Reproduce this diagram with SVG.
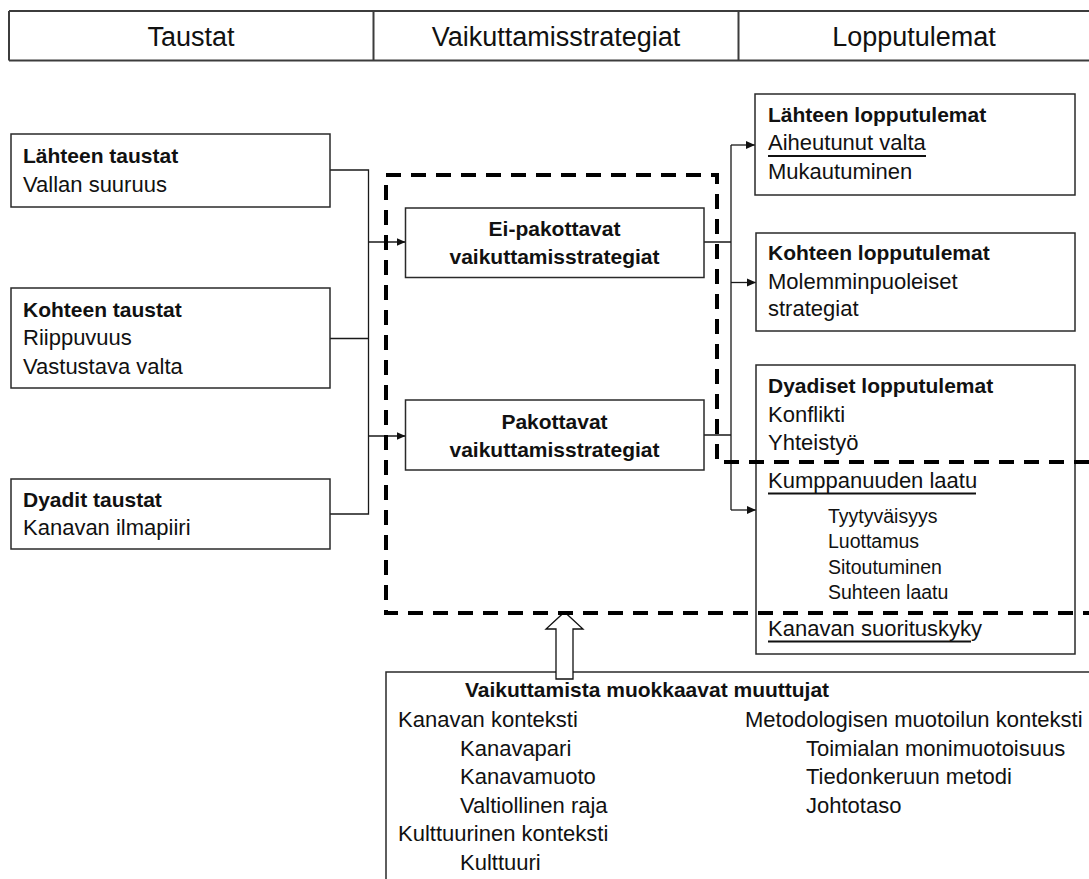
<svg xmlns="http://www.w3.org/2000/svg" width="1089" height="879" viewBox="0 0 1089 879">
  <style>
    text { font-family: "Liberation Sans", Arial, sans-serif; fill: #111; }
    .hd { font-size: 27px; text-anchor: middle; }
    .b { font-size: 21px; font-weight: bold; }
    .r { font-size: 22px; }
    .s { font-size: 19.5px; }
    .c { text-anchor: middle; }
    .box { fill: #fff; stroke: #2a2a2a; stroke-width: 1.5; }
    .ln { fill: none; stroke: #1a1a1a; stroke-width: 1.3; }
    .ul { stroke: #111; stroke-width: 2; }
    .dash { fill: none; stroke: #000; stroke-width: 4; stroke-dasharray: 15 10; }
  </style>
  <defs>
    <marker id="ah" markerUnits="userSpaceOnUse" markerWidth="10" markerHeight="9" refX="9" refY="4.5" orient="auto">
      <path d="M0,0.5 L9,4.5 L0,8.5 z" fill="#111"/>
    </marker>
  </defs>

  <rect width="1089" height="879" fill="#fff"/>

  <!-- column header -->
  <g id="header">
    <path d="M9 11 H1089 M9 60.5 H1089 M9 11 V60.5 M373.5 11 V60.5 M738.5 11 V60.5" fill="none" stroke="#3c3c3c" stroke-width="2"/>
    <text class="hd" x="191" y="46">Taustat</text>
    <text class="hd" x="556" y="46">Vaikuttamisstrategiat</text>
    <text class="hd" x="914" y="46">Lopputulemat</text>
  </g>

  <!-- connectors -->
  <g id="connectors">
    <path class="ln" d="M330 170 H368.5 V514 H330 M330 338.5 H368.5"/>
    <path class="ln" d="M368.5 242 H405.5" marker-end="url(#ah)"/>
    <path class="ln" d="M368.5 436 H405.5" marker-end="url(#ah)"/>
    <path class="ln" d="M704 242 H731 M704 435 H731 M731 145 V510"/>
    <path class="ln" d="M731 145 H755" marker-end="url(#ah)"/>
    <path class="ln" d="M731 282.5 H756" marker-end="url(#ah)"/>
    <path class="ln" d="M731 510 H756" marker-end="url(#ah)"/>
  </g>

  <!-- antecedents -->
  <g id="source-antecedents">
    <rect class="box" x="11" y="134" width="319" height="73"/>
    <text class="b" x="23" y="163">Lähteen taustat</text>
    <text class="r" x="23" y="191.5">Vallan suuruus</text>
  </g>
  <g id="target-antecedents">
    <rect class="box" x="11" y="288" width="319" height="100"/>
    <text class="b" x="23" y="316.5">Kohteen taustat</text>
    <text class="r" x="23" y="345">Riippuvuus</text>
    <text class="r" x="23" y="373.5">Vastustava valta</text>
  </g>
  <g id="dyadic-antecedents">
    <rect class="box" x="11" y="479" width="319" height="70"/>
    <text class="b" x="23" y="506.5">Dyadit taustat</text>
    <text class="r" x="23" y="535">Kanavan ilmapiiri</text>
  </g>

  <!-- influence strategies -->
  <g id="noncoercive">
    <rect class="box" x="405.5" y="208" width="298.5" height="69.5"/>
    <text class="b c" x="554.5" y="236">Ei-pakottavat</text>
    <text class="b c" x="554.5" y="264">vaikuttamisstrategiat</text>
  </g>
  <g id="coercive">
    <rect class="box" x="405.5" y="400" width="298.5" height="70"/>
    <text class="b c" x="554.5" y="428.5">Pakottavat</text>
    <text class="b c" x="554.5" y="456.5">vaikuttamisstrategiat</text>
  </g>

  <!-- outcomes -->
  <g id="source-outcomes">
    <rect class="box" x="755" y="94" width="320" height="101"/>
    <text class="b" x="768" y="121.5">Lähteen lopputulemat</text>
    <text class="r" x="768" y="150">Aiheutunut valta</text>
    <line class="ul" x1="768" y1="156" x2="926" y2="156"/>
    <text class="r" x="768" y="178.5">Mukautuminen</text>
  </g>
  <g id="target-outcomes">
    <rect class="box" x="756" y="233" width="319" height="98"/>
    <text class="b" x="768" y="260">Kohteen lopputulemat</text>
    <text class="r" x="768" y="288.5">Molemminpuoleiset</text>
    <text class="r" x="768" y="316">strategiat</text>
  </g>
  <g id="dyadic-outcomes">
    <rect class="box" x="756" y="365" width="319" height="289"/>
    <text class="b" x="768" y="393">Dyadiset lopputulemat</text>
    <text class="r" x="768" y="421.5">Konflikti</text>
    <text class="r" x="768" y="450">Yhteistyö</text>
    <text class="r" x="768" y="488">Kumppanuuden laatu</text>
    <line class="ul" x1="768" y1="493.5" x2="976" y2="493.5"/>
    <text class="s" x="828" y="523">Tyytyväisyys</text>
    <text class="s" x="828" y="548">Luottamus</text>
    <text class="s" x="828" y="573.5">Sitoutuminen</text>
    <text class="s" x="828" y="599">Suhteen laatu</text>
    <text class="r" x="768" y="635.5">Kanavan suorituskyky</text>
    <line class="ul" x1="768" y1="641.5" x2="971" y2="641.5"/>
  </g>

  <!-- moderators -->
  <g id="moderators">
    <rect class="box" x="386" y="672" width="760" height="260"/>
    <text class="b" x="465" y="697">Vaikuttamista muokkaavat muuttujat</text>
    <text class="r" x="398" y="727">Kanavan konteksti</text>
    <text class="r" x="460" y="755.5">Kanavapari</text>
    <text class="r" x="460" y="784">Kanavamuoto</text>
    <text class="r" x="460" y="812.5">Valtiollinen raja</text>
    <text class="r" x="398" y="841">Kulttuurinen konteksti</text>
    <text class="r" x="460" y="869.5">Kulttuuri</text>
    <text class="r" x="745" y="727">Metodologisen muotoilun konteksti</text>
    <text class="r" x="806" y="755.5">Toimialan monimuotoisuus</text>
    <text class="r" x="806" y="784">Tiedonkeruun metodi</text>
    <text class="r" x="806" y="812.5">Johtotaso</text>
  </g>

  <!-- moderating effect: hollow block arrow -->
  <g id="moderation-arrow">
    <path d="M556 679 V629 H546 L564.5 612 L583 629 H573 V679 Z" fill="#fff" stroke="#111" stroke-width="1.3" stroke-linejoin="miter"/>
  </g>

  <!-- dashed boundary of the influence process -->
  <g id="process-boundary">
    <path class="dash" d="M1089 462 H717 V175 H386 V613 H1089"/>
  </g>
</svg>
